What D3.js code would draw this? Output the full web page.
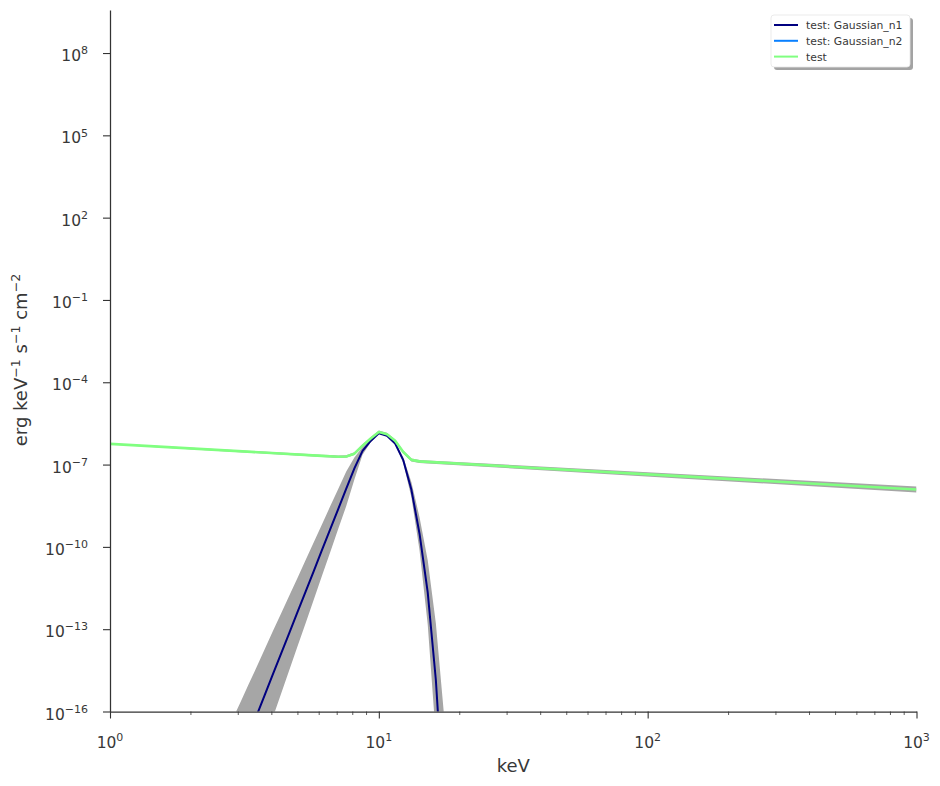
<!DOCTYPE html>
<html>
<head>
<meta charset="utf-8">
<script src="https://cdn.jsdelivr.net/npm/d3@7"></script>
<style>
  body { margin: 0; background: #fff; }
  svg { display: block; }
  text { font-family: "DejaVu Sans", sans-serif; fill: #383838; }
</style>
</head>
<body>
<svg id="chart" width="940" height="786"></svg>
<script>
// ---------------- data ----------------
const energyN1 = [2.848, 3.054, 3.275, 3.511, 3.765, 4.037, 4.329, 4.642, 4.977, 5.337,
  5.722, 6.136, 6.579, 7.055, 7.565, 8.111, 8.697, 9.326, 10, 10.72,
  11.50, 12.33, 13.22, 14.17, 15.20, 16.30, 17.48];
const n1Values = [3.98e-19, 2.24e-18, 1.26e-17, 7.08e-17, 4.07e-16, 2.29e-15, 1.29e-14, 7.24e-14, 4.07e-13, 2.29e-12,
  1.29e-11, 7.41e-11, 4.17e-10, 2.34e-9, 1.32e-8, 7.24e-8, 3.16e-7, 7.24e-7, 1.38e-6, 1.12e-6,
  5.89e-7, 1.45e-7, 1.20e-8, 3.02e-10, 2.19e-12, 1.38e-15, 2.51e-20];
const n1Upper = [4.90e-17, 2.14e-16, 9.55e-16, 4.17e-15, 1.91e-14, 8.51e-14, 3.72e-13, 1.66e-12, 7.24e-12, 3.24e-11,
  1.45e-10, 6.46e-10, 2.88e-9, 1.26e-8, 5.62e-8, 1.82e-7, 4.37e-7, 8.13e-7, 1.45e-6, 1.17e-6,
  6.46e-7, 1.82e-7, 2.29e-8, 1.20e-9, 3.24e-11, 1.62e-13, 7.41e-17];
const n1Lower = [3.24e-21, 2.34e-20, 1.66e-19, 1.20e-18, 8.71e-18, 6.17e-17, 4.47e-16, 3.16e-15, 2.29e-14, 1.62e-13,
  1.15e-12, 8.51e-12, 6.03e-11, 4.37e-10, 3.09e-9, 2.88e-8, 2.29e-7, 6.46e-7, 1.32e-6, 1.07e-6,
  5.37e-7, 1.15e-7, 6.31e-9, 7.59e-11, 1.48e-13, 1.17e-17, 8.51e-24];

// Gaussian_n2 stays below the plotted range everywhere
const energyN2 = [];
const n2Values = [];

const energyTotal = [1, 6.136, 6.579, 7.055, 7.565, 8.111, 8.697, 9.326, 10, 10.72,
  11.50, 12.33, 13.22, 14.17, 15.20, 1000];
const totalValues = [5.68e-7, 2.07e-7, 2.00e-7, 1.94e-7, 1.98e-7, 2.50e-7, 4.88e-7, 8.89e-7, 1.54e-6, 1.27e-6,
  7.35e-7, 2.86e-7, 1.48e-7, 1.31e-7, 1.25e-7, 1.23e-8];
const totalUpper = [5.94e-7, 2.30e-7, 2.22e-7, 2.15e-7, 2.20e-7, 2.79e-7, 5.45e-7, 9.95e-7, 1.73e-6, 1.43e-6,
  8.28e-7, 3.23e-7, 1.67e-7, 1.48e-7, 1.42e-7, 1.58e-8];
const totalLower = [5.42e-7, 1.87e-7, 1.80e-7, 1.75e-7, 1.78e-7, 2.24e-7, 4.37e-7, 7.94e-7, 1.37e-6, 1.13e-6,
  6.52e-7, 2.53e-7, 1.30e-7, 1.15e-7, 1.10e-7, 9.53e-9];

const seriesNames = ["test: Gaussian_n1", "test: Gaussian_n2", "test"];
const seriesColors = ["#000080", "#0a80ff", "#80ff80"];

const xTickValues = [1, 10, 100, 1000];
const xTickExponents = ["0", "1", "2", "3"];
const yTickValues = [1e-16, 1e-13, 1e-10, 1e-7, 1e-4, 1e-1, 1e2, 1e5, 1e8];
const yTickExponents = ["\u221216", "\u221213", "\u221210", "\u22127", "\u22124", "\u22121", "2", "5", "8"];
const xLabel = "keV";

// ---------------- layout ----------------
const svg = d3.select("#chart");
const pLeft = 110, pRight = 916.5, pTop = 10, pBottom = 711.5;
const x = d3.scaleLog().domain([1, 1000]).range([pLeft, pRight]);
const y = d3.scaleLog().domain([1e-16, 3.7e9]).range([pBottom, pTop]);
const ink = "#333333";
const bandColor = "#a6a6a6";

svg.append("defs").append("clipPath").attr("id", "plotClip")
  .append("rect").attr("x", pLeft).attr("y", pTop)
  .attr("width", pRight - pLeft).attr("height", pBottom - pTop);

const plot = svg.append("g").attr("clip-path", "url(#plotClip)");

function zipped(es, vs, lo, hi) {
  return es.map((e, i) => ({ e, v: vs[i], lo: lo ? lo[i] : null, hi: hi ? hi[i] : null }));
}
const n1Data = zipped(energyN1, n1Values, n1Lower, n1Upper);
const totalData = zipped(energyTotal, totalValues, totalLower, totalUpper);
const n2Data = zipped(energyN2, n2Values);

const area = d3.area().x(d => x(d.e)).y0(d => y(d.lo)).y1(d => y(d.hi));
const line = d3.line().x(d => x(d.e)).y(d => y(d.v));

plot.append("path").attr("d", area(n1Data)).attr("fill", bandColor);
plot.append("path").attr("d", area(totalData)).attr("fill", bandColor);

plot.append("path").attr("d", line(n1Data)).attr("fill", "none")
  .attr("stroke", seriesColors[0]).attr("stroke-width", 2).attr("stroke-linejoin", "round");
if (n2Data.length) {
  plot.append("path").attr("d", line(n2Data)).attr("fill", "none")
    .attr("stroke", seriesColors[1]).attr("stroke-width", 2);
}
plot.append("path").attr("d", line(totalData)).attr("fill", "none")
  .attr("stroke", seriesColors[2]).attr("stroke-width", 2.6).attr("stroke-linejoin", "round");

// ---------------- axes ----------------
const xAxis = d3.axisBottom(x).tickValues(xTickValues).tickSize(7).tickSizeOuter(0).tickFormat("");
const gx = svg.append("g").attr("transform", `translate(0,${pBottom})`).call(xAxis);
gx.select(".domain").attr("stroke", ink).attr("stroke-width", 1.25);
gx.selectAll(".tick line").attr("stroke", ink).attr("stroke-width", 1.1);

// minor x ticks
const minorX = [];
[1, 10, 100].forEach(d => { for (let k = 2; k <= 9; k++) minorX.push(k * d); });
gx.selectAll(".minor").data(minorX).enter().append("line")
  .attr("x1", d => x(d)).attr("x2", d => x(d)).attr("y1", 0).attr("y2", 3.5)
  .attr("stroke", ink).attr("stroke-width", 0.8);

xTickValues.forEach((v, i) => {
  const t = gx.append("text").attr("x", x(v)).attr("y", 36.5)
    .attr("text-anchor", "middle").attr("font-size", 15.5);
  t.append("tspan").text("10");
  t.append("tspan").attr("dy", -6.8).attr("font-size", 11).text(xTickExponents[i]);
});

const yAxis = d3.axisLeft(y).tickValues(yTickValues).tickSize(7).tickSizeOuter(0).tickFormat("");
const gy = svg.append("g").attr("transform", `translate(${pLeft},0)`).call(yAxis);
gy.select(".domain").attr("stroke", ink).attr("stroke-width", 1.25);
gy.selectAll(".tick line").attr("stroke", ink).attr("stroke-width", 1.1);

yTickValues.forEach((v, i) => {
  const t = gy.append("text").attr("x", -22).attr("y", y(v) + 8)
    .attr("text-anchor", "end").attr("font-size", 15.5);
  t.append("tspan").text("10");
  t.append("tspan").attr("dy", -6.8).attr("font-size", 11).text(yTickExponents[i]);
});

// axis labels
svg.append("text").attr("x", (pLeft + pRight) / 2).attr("y", 772)
  .attr("text-anchor", "middle").attr("font-size", 18).text(xLabel);

const yl = svg.append("text").attr("transform", "translate(27,360) rotate(-90)")
  .attr("text-anchor", "middle").attr("font-size", 18);
yl.append("tspan").text("erg keV");
yl.append("tspan").attr("dy", -7).attr("font-size", 12.6).text("\u22121");
yl.append("tspan").attr("dy", 7).text(" s");
yl.append("tspan").attr("dy", -7).attr("font-size", 12.6).text("\u22121");
yl.append("tspan").attr("dy", 7).text(" cm");
yl.append("tspan").attr("dy", -7).attr("font-size", 12.6).text("\u22122");

// ---------------- legend ----------------
const lg = svg.append("g");
const lx = 771, ly = 15, lw = 139, lh = 52;
lg.append("rect").attr("x", lx + 3).attr("y", ly + 3).attr("width", lw).attr("height", lh)
  .attr("rx", 3).attr("fill", "#a3a3a3");
lg.append("rect").attr("x", lx).attr("y", ly).attr("width", lw).attr("height", lh)
  .attr("rx", 3).attr("fill", "#fff").attr("stroke", "#e6e6e6").attr("stroke-width", 0.8);
seriesNames.forEach((name, i) => {
  const ry = ly + 10 + i * 15.8;
  lg.append("line").attr("x1", lx + 3).attr("x2", lx + 27).attr("y1", ry).attr("y2", ry)
    .attr("stroke", seriesColors[i]).attr("stroke-width", 2);
  lg.append("text").attr("x", lx + 35).attr("y", ry + 4).attr("font-size", 10.8).text(name);
});
</script>
</body>
</html>
